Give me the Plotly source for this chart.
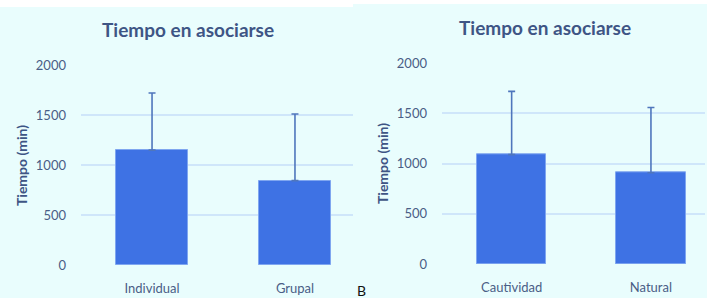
import plotly.graph_objects as go

title_text = "Tiempo en asociarse"
y_title = "Tiempo (min)"

cats_left = ["Individual", "Grupal"]
vals_left = [1150, 845]
err_left = [570, 665]

cats_right = ["Cautividad", "Natural"]
vals_right = [1090, 910]
err_right = [630, 650]

y_ticks = [0, 500, 1000, 1500, 2000]

W, H = 707, 298
BG = "#E9FDFD"
BAR = "#3E72E4"
ERR = "#4F76BC"
TXT = "#3E5585"
TICK = "#4A5E86"
GRID = "#CFE6FA"
FONT = "Lato"

def px(x):
    return x / W

def py(y):
    return 1 - y / H

fig = go.Figure()

fig.add_trace(go.Bar(
    x=cats_left, y=vals_left, xaxis="x", yaxis="y", width=0.5,
    marker=dict(color=BAR, line=dict(color="#7FA6F0", width=1)),
    error_y=dict(type="data", array=err_left, arrayminus=[0] * len(err_left),
                 symmetric=False, color=ERR, thickness=1.6, width=3.5),
    showlegend=False, hoverinfo="skip",
))
fig.add_trace(go.Bar(
    x=cats_right, y=vals_right, xaxis="x2", yaxis="y2", width=0.5,
    marker=dict(color=BAR, line=dict(color="#7FA6F0", width=1)),
    error_y=dict(type="data", array=err_right, arrayminus=[0] * len(err_right),
                 symmetric=False, color=ERR, thickness=1.6, width=3.5),
    showlegend=False, hoverinfo="skip",
))

axis_common = dict(showline=False, zeroline=False, ticks="", automargin=False,
                   tickfont=dict(family=FONT, size=13, color=TICK))

fig.update_layout(
    template="none",
    width=W, height=H,
    margin=dict(l=0, r=0, t=0, b=0, pad=0),
    paper_bgcolor="white",
    plot_bgcolor="rgba(0,0,0,0)",
    bargap=0,
    xaxis=dict(domain=[px(81), px(353)], range=[-0.497, 1.406], showgrid=False,
               anchor="y", ticklabelstandoff=14, **axis_common),
    yaxis=dict(domain=[py(265.3), py(65)], range=[0, 2000], tickvals=y_ticks,
               showgrid=True, gridcolor=GRID, gridwidth=1.5, anchor="x",
               ticklabelstandoff=14, **axis_common),
    xaxis2=dict(domain=[px(442), px(705)], range=[-0.5, 1.388], showgrid=False,
                anchor="y2", ticklabelstandoff=14, **axis_common),
    yaxis2=dict(domain=[py(264), py(63.3)], range=[0, 2000], tickvals=y_ticks,
                showgrid=True, gridcolor=GRID, gridwidth=1.5, anchor="x2",
                ticklabelstandoff=14, **axis_common),
    shapes=[
        dict(type="rect", xref="paper", yref="paper", x0=0, x1=px(353),
             y0=0, y1=py(7), fillcolor=BG, line=dict(width=0), layer="below"),
        dict(type="rect", xref="paper", yref="paper", x0=px(353), x1=1,
             y0=0, y1=py(4), fillcolor=BG, line=dict(width=0), layer="below"),
    ],
    annotations=[
        dict(text="<b>" + title_text + "</b>", xref="paper", yref="paper",
             x=px(187.5), y=py(30), showarrow=False, xanchor="center", yanchor="middle",
             font=dict(family=FONT, size=19, color=TXT)),
        dict(text="<b>" + title_text + "</b>", xref="paper", yref="paper",
             x=px(544.7), y=py(27.7), showarrow=False, xanchor="center", yanchor="middle",
             font=dict(family=FONT, size=19, color=TXT)),
        dict(text="<b>" + y_title + "</b>", xref="paper", yref="paper",
             x=px(21), y=py(166), showarrow=False, textangle=-90,
             xanchor="center", yanchor="middle",
             font=dict(family=FONT, size=14, color=TXT)),
        dict(text="<b>" + y_title + "</b>", xref="paper", yref="paper",
             x=px(382), y=py(164), showarrow=False, textangle=-90,
             xanchor="center", yanchor="middle",
             font=dict(family=FONT, size=14, color=TXT)),
        dict(text="B", xref="paper", yref="paper",
             x=px(361.5), y=py(290), showarrow=False,
             xanchor="center", yanchor="middle",
             font=dict(family=FONT, size=14, color="#111111")),
    ],
)

fig.write_html(
    "out.html",
    config={"displayModeBar": False},
    post_script="document.body.style.margin='0';document.body.style.overflow='hidden';",
)
